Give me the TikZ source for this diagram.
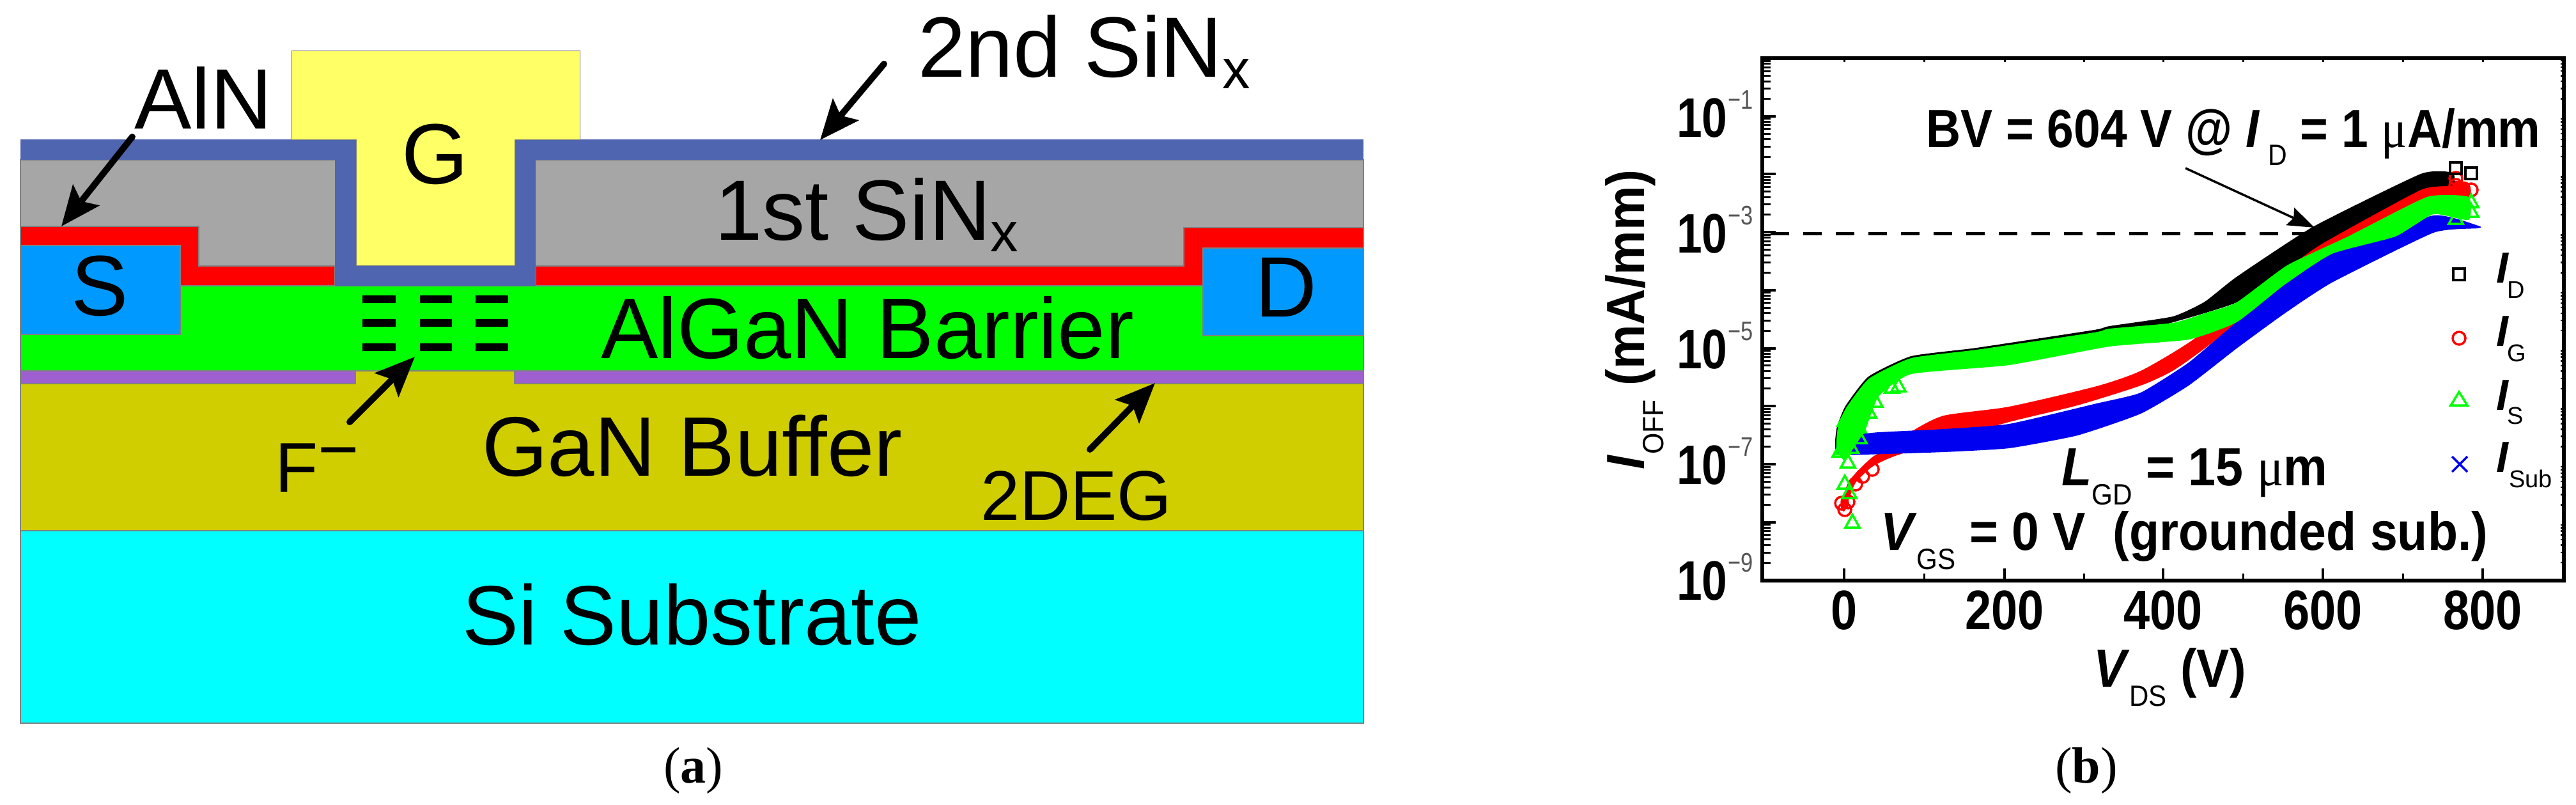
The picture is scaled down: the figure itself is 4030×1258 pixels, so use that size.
\documentclass[tikz,border=0pt]{standalone}
\usepackage{fontspec}
\usepackage{graphicx}
\setmainfont{Liberation Sans}
\newfontfamily\capf{Liberation Serif}
\usetikzlibrary{arrows.meta}
\newcommand{\fs}[1]{\fontsize{#1}{#1}\selectfont}
\newcommand{\cnd}[2][.85]{\scalebox{#1}[1]{#2}}
\definecolor{cNit}{HTML}{4F65B0}
\definecolor{cGray}{HTML}{A6A6A6}
\definecolor{cPur}{HTML}{9E5FD0}
\definecolor{cOli}{HTML}{D0CE00}
\definecolor{cSD}{HTML}{0099FF}
\definecolor{cGate}{HTML}{FFFF66}
\definecolor{cSup}{HTML}{555555}
\definecolor{cEdge}{HTML}{808080}
\definecolor{cSi}{HTML}{00FFFF}
\definecolor{cBar}{HTML}{00FF00}
\definecolor{cRed}{HTML}{FF0000}
\definecolor{cBlu}{HTML}{0000F0}
\tikzset{
 lay/.style={draw=cEdge,line width=1.5pt},
 tx/.style={anchor=base west,inner sep=0pt,outer sep=0pt,text=black},
 bigarrow/.style={line width=10pt,line cap=round,-{Stealth[length=62pt,width=52pt,inset=12pt]}},
 axln/.style={line width=5.5pt,black},
 tk/.style={line width=4pt,black},
 mtk/.style={line width=3pt,black},
 tri/.style={draw=cBar,line width=3.5pt,line join=miter},
 cir/.style={draw=cRed,line width=3.5pt},
 sq/.style={draw=black,line width=4pt},
 xm/.style={draw=cBlu,line width=3.5pt}
}
\begin{document}
\begin{tikzpicture}[x=1pt,y=-1pt]
\useasboundingbox (0,0) rectangle (4030,1258);
% ---------- (a) device ----------
\draw[lay,fill=cSi] (32,830) rectangle (2133,1131);
\draw[lay,fill=cOli] (32,580) rectangle (2133,830);
\draw[lay,fill=cPur] (32,580) rectangle (556,600);
\draw[lay,fill=cPur] (805,580) rectangle (2133,600);
\draw[lay,fill=cBar] (32,447) rectangle (2133,580);
\draw[lay,fill=cGray] (32,250) rectangle (2133,447);
\fill[cRed,draw=cEdge,line width=1.5pt] (32,354) -- (311,354) -- (311,416) -- (524,416) -- (524,447) -- (282,447) -- (282,384) -- (32,384) -- cycle;
\fill[cRed,draw=cEdge,line width=1.5pt] (838,416) -- (1852,416) -- (1852,356) -- (2133,356) -- (2133,388) -- (1882,388) -- (1882,447) -- (838,447) -- cycle;
\draw[lay,fill=cSD] (32,384) rectangle (282,523);
\draw[lay,fill=cSD] (1882,388) rectangle (2133,525);
\fill[cNit] (32,218) -- (557,218) -- (557,415) -- (805,415) -- (805,218) -- (2133,218) -- (2133,250) -- (838,250) -- (838,447) -- (524,447) -- (524,250) -- (32,250) -- cycle;
\fill[cGate,draw=cEdge,line width=1pt] (456,79) -- (907,79) -- (907,218) -- (805,218) -- (805,415) -- (557,415) -- (557,218) -- (456,218) -- cycle;
\foreach \yy in {468,505,543}{
 \fill[black] (567,\yy-6) rectangle (619,\yy+6);
 \fill[black] (657,\yy-6) rectangle (707,\yy+6);
 \fill[black] (744,\yy-6) rectangle (795,\yy+6);
}
\node[tx,font=\fs{134}] (tAlN) at (210,201) {AlN};
\node[tx,font=\fs{134}] (tG) at (628,287) {G};
\node[tx,font=\fs{134}] (t2nd) at (1436,120) {2nd SiN\raisebox{-18pt}{\fs{87}x}};
\node[tx,font=\fs{134}] (t1st) at (1118,375) {1st SiN\raisebox{-18pt}{\fs{87}x}};
\node[tx,font=\fs{134}] (tS) at (111,493) {S};
\node[tx,font=\fs{134}] (tD) at (1963,495) {D};
\node[tx,font=\fs{134}] (tBar) at (940,560) {AlGaN Barrier};
\node[tx,font=\fs{132}] (tGaN) at (754,744) {GaN Buffer};
\node[tx,font=\fs{132}] (tSi) at (723,1008) {Si Substrate};
\node[tx,font=\fs{110}] (tF) at (430,769) {F\raisebox{29pt}{−}};
\node[tx,font=\fs{110}] (t2D) at (1534,813) {2DEG};
\coordinate (a1s) at (207,214); \coordinate (a1e) at (96,354);
\coordinate (a2s) at (1383,100); \coordinate (a2e) at (1283,219);
\coordinate (a3s) at (547,660); \coordinate (a3e) at (649,558);
\coordinate (a4s) at (1705,703); \coordinate (a4e) at (1807,599);
\draw[bigarrow] (a1s) -- (a1e);
\draw[bigarrow] (a2s) -- (a2e);
\draw[bigarrow] (a3s) -- (a3e);
\draw[bigarrow] (a4s) -- (a4e);
\node[tx,font=\capf\fs{80}] (capa) at (1038,1224) {(\textbf{a})};
\node[tx,font=\capf\fs{80}] (capb) at (3215,1224) {(\textbf{b})};
% ---------- (b) plot ----------
\fill[cRed] plot[smooth cycle,tension=.4] coordinates {(2880,790) (2893,752) (2929,715) (2965,695) (2990,675) (3041,650) (3143,636) (3280,604) (3349,580) (3424,536) (3499,480) (3628,375) (3787,290) (3860,285) (3860,318) (3797,315) (3673,375) (3578,420) (3499,504) (3449,545) (3399,580) (3349,603) (3250,634) (3143,660) (3041,690) (2965,713) (2929,730) (2903,755) (2893,780) (2885,800)};
\fill[cBlu] plot[smooth cycle,tension=.3] coordinates {(2873,684) (2903,680) (2939,676) (3041,671) (3143,663) (3280,631) (3349,614) (3424,567) (3499,504) (3648,390) (3807,337) (3877,353) (3877,357) (3807,364) (3648,442) (3573,491) (3499,545) (3424,603) (3349,647) (3250,681) (3143,701) (3041,707) (2914,711) (2873,710)};
\fill[black] plot[smooth cycle,tension=.3] coordinates {(2871,690) (2874,667) (2887,635) (2923,589) (2990,557) (3092,544) (3276,516) (3300,510) (3399,495) (3449,472) (3499,433) (3618,355) (3787,272) (3837,270) (3837,290) (3787,297) (3628,384) (3499,473) (3300,530) (3092,560) (2990,570) (2924,610) (2890,650) (2875,700)};
\fill[cBar] plot[smooth cycle,tension=.3] coordinates {(2873,700) (2875,670) (2888,638) (2924,592) (2990,560) (3092,547) (3276,520) (3300,514) (3399,505) (3449,490) (3499,473) (3578,415) (3673,370) (3797,308) (3862,308) (3862,344) (3807,335) (3747,370) (3648,397) (3573,446) (3499,504) (3424,531) (3300,542) (3143,571) (2990,585) (2939,620) (2919,670) (2903,696) (2885,720)};
% data markers
\foreach \xx/\yy in {2886/797,2881/787,2891/785,2903/757,2914/745,2929/734,3842/279,3842/290,3866/297}
 \draw[cir] (\xx,\yy) circle (10);
\foreach \xx/\yy in {3842/263,3866/271}
 \draw[sq] (\xx-9,\yy-9) rectangle (\xx+9,\yy+9);
\foreach \xx/\yy in {2898/816,2886/755,2893/770,2891/722,2896/699,2909/684,2883/701,2908/667,2886/657,2924/644,2934/627,2898/655,2878/705,2960/605,2970/603,3866/315,3866/330,3842/341}
 \draw[tri] (\xx,\yy-11) -- (\xx+11,\yy+9) -- (\xx-11,\yy+9) -- cycle;
% frame and ticks
\foreach \d in {0,...,8}{
 \foreach \m in {.301,.477,.602,.699,.778,.845,.903,.954}{
  \draw[mtk] (2758,{91+90.7*(\d+1-\m)}) -- (2770,{91+90.7*(\d+1-\m)});
  \draw[line width=2.5pt] (4011,{91+90.7*(\d+1-\m)}) -- (4006,{91+90.7*(\d+1-\m)});
 }
 \draw[tk] (2758,{91+90.7*(\d+1)}) -- (2778,{91+90.7*(\d+1)});
}
\draw[tk] (2758,91) -- (2778,91);
\foreach \xx in {2885,3136,3384,3634,3884}
 \draw[tk] (\xx,908) -- (\xx,889);
\foreach \xx in {3010,3260,3509,3759}
 \draw[mtk] (\xx,908) -- (\xx,897);
\foreach \xx in {2885,3010,3136,3260,3384,3509,3634,3759,3884}
 \draw[mtk] (\xx,91) -- (\xx,97);
\draw[axln] (2757,91) rectangle (4011,908);
\coordinate (dl) at (2770,365); \coordinate (dr) at (3620,365);
\draw[line width=5pt,dash pattern=on 29pt off 22pt] (dl) -- (dr);
\coordinate (bvs) at (3419,263); \coordinate (bve) at (3621,356);
\draw[line width=3.5pt,-{Stealth[length=42pt,width=30pt,inset=6pt]}] (bvs) -- (bve);
% tick labels
\foreach \nm/\yy/\ee in {a/214/1,b/395/3,c/576/5,d/757/7,e/938/9}{
 \node[tx,font=\bfseries\fs{87}] (yt\nm) at (2623,\yy) {\cnd[.82]{10}};
 \node[tx,font=\fs{42},text=cSup] (ys\nm) at (2703,\yy-44) {\cnd[.82]{−\ee}};
}
\foreach \nm/\xx/\lab in {a/2885/0,b/3136/200,c/3384/400,d/3634/600,e/3884/800}
 \node[tx,anchor=base,font=\bfseries\fs{87}] (xt\nm) at (\xx,984) {\cnd{\lab}};
% plot annotations
\node[tx,font=\bfseries\fs{84}] (tBV) at (3013,230) {\cnd[.893]{BV = 604 V @ \textit{I}\,\raisebox{-28pt}{\fs{46}\mdseries D} = 1 {\capf\mdseries μ}A/mm}};
\node[tx,font=\bfseries\fs{84}] (tL) at (3225,759) {\cnd[.92]{\textit{L}\raisebox{-30pt}{\fs{46}\mdseries GD} = 15 {\capf\mdseries μ}m}};
\node[tx,font=\bfseries\fs{84}] (tV) at (2942,860) {\cnd[.917]{\textit{V}\raisebox{-30pt}{\fs{46}\mdseries GS} = 0 V \ (grounded sub.)}};
\node[tx,font=\bfseries\fs{84}] (tXl) at (3275,1074) {\cnd[.914]{\textit{V}\raisebox{-30pt}{\fs{46}\mdseries DS} (V)}};
\node[tx,rotate=90,font=\bfseries\fs{84}] (tYl) at (2572,734) {\cnd[.93]{\textit{I}\raisebox{-30pt}{\fs{46}\mdseries OFF} (mA/mm)}};
% legend
\draw[sq] (3838,420) rectangle (3856,438);
\draw[cir] (3847,529) circle (10);
\draw[tri] (3847,613) -- (3860,634) -- (3834,634) -- cycle;
\draw[xm] (3836,714) -- (3860,738) (3860,714) -- (3836,738);
\node[tx,font=\bfseries\itshape\fs{68}] (lgD) at (3905,442) {I};
\node[tx,font=\fs{38}] (lgDs) at (3922,466) {D};
\node[tx,font=\bfseries\itshape\fs{68}] (lgG) at (3905,541) {I};
\node[tx,font=\fs{38}] (lgGs) at (3922,565) {G};
\node[tx,font=\bfseries\itshape\fs{68}] (lgS) at (3905,641) {I};
\node[tx,font=\fs{38}] (lgSs) at (3922,663) {S};
\node[tx,font=\bfseries\itshape\fs{68}] (lgU) at (3905,738) {I};
\node[tx,font=\fs{38}] (lgUs) at (3925,762) {Sub};
\end{tikzpicture}
\end{document}
